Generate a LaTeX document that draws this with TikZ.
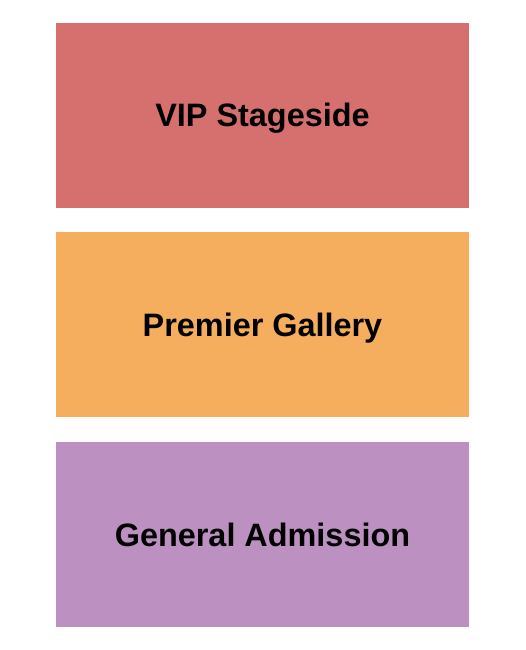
\documentclass[tikz,border=0pt]{standalone}
\usepackage{fontspec}
\setmainfont{Liberation Sans}
\definecolor{vipc}{HTML}{D6706E}
\definecolor{premc}{HTML}{F4AE5E}
\definecolor{genc}{HTML}{BC91C2}
\begin{document}
\begin{tikzpicture}[x=1pt,y=-1pt,
  section/.style={draw=none,minimum width=413pt,minimum height=185pt,inner sep=0pt,
    text height=23pt,text depth=0pt,
    font=\fontsize{32.4}{36}\selectfont\bfseries,text=black}]
\useasboundingbox (0,0) rectangle (525,650);
\fill[white] (0,0) rectangle (525,650);
\node[section,fill=vipc] (vip) at (262.5,115.5) {VIP Stageside};
\node[section,fill=premc] (prem) at (262.5,324.5) {Premier Gallery};
\node[section,fill=genc] (gen) at (262.5,534.5) {General Admission};
\end{tikzpicture}
\end{document}
